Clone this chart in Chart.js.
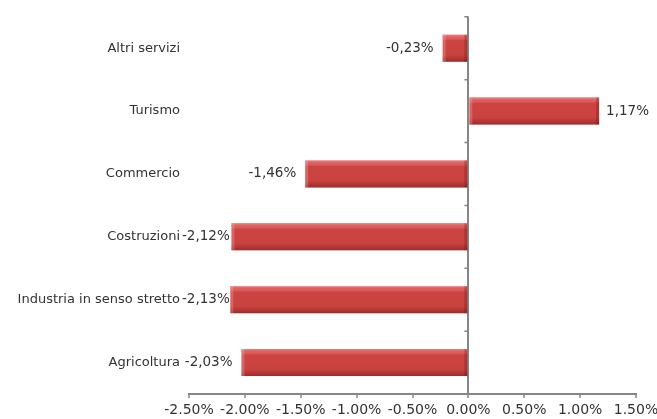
<!DOCTYPE html>
<html>
<head>
<meta charset="utf-8">
<script src="https://cdn.jsdelivr.net/npm/chart.js@4"></script>
<style>
    html, body { margin: 0; padding: 0; background: #fff; }
    #wrap { width: 657px; height: 419px; }
</style>
</head>
<body>
<div id="wrap"><canvas id="sectorChart"></canvas></div>
<script>
const categories = ['Altri servizi', 'Turismo', 'Commercio', 'Costruzioni', 'Industria in senso stretto', 'Agricoltura'];
const values = [-0.23, 1.17, -1.46, -2.12, -2.13, -2.03];
const xMin = -2.5;
const xMax = 1.5;
const xStep = 0.5;

const AXIS = '#868686';
const TEXT = '#333333';
const FONT = 'DejaVu Sans';

function pctLabel(v) {
    return v.toFixed(2).replace('.', ',') + '%';
}

const ctx = document.getElementById('sectorChart').getContext('2d');

const chart = new Chart(ctx, {
    type: 'bar',
    data: {
        labels: categories,
        datasets: [{
            data: values,
            backgroundColor: '#cc4341',
            borderWidth: 0,
            categoryPercentage: 1,
            barPercentage: 0.43
        }]
    },
    options: {
        indexAxis: 'y',
        responsive: true,
        maintainAspectRatio: false,
        animation: false,
        layout: { padding: { top: 15, right: 21, left: 0, bottom: 0 } },
        plugins: { legend: { display: false }, tooltip: { enabled: false } },
        scales: {
            x: {
                min: xMin,
                max: xMax,
                ticks: {
                    stepSize: xStep,
                    color: TEXT,
                    font: { family: FONT, size: 14 },
                    padding: 4,
                    callback: v => Number(v).toFixed(2) + '%'
                },
                grid: {
                    color: c => (c.tick && c.tick.value === 0) ? AXIS : 'rgba(0,0,0,0)',
                    lineWidth: 2,
                    drawTicks: true,
                    tickLength: 4,
                    tickColor: AXIS,
                    tickWidth: 1.5
                },
                border: { display: true, color: AXIS, width: 2 },
                afterFit: scale => {
                    scale.height = 25;
                    scale.paddingLeft = 0;
                    scale.paddingRight = 0;
                }
            },
            y: {
                ticks: {
                    color: TEXT,
                    font: { family: FONT, size: 13 },
                    padding: 9
                },
                grid: { display: false, drawTicks: false },
                border: { display: false },
                afterFit: scale => { scale.width = 189; }
            }
        }
    },
    plugins: [{
        id: 'barShading',
        afterDatasetsDraw: chart => {
            const c = chart.ctx;
            const meta = chart.getDatasetMeta(0);
            c.save();
            meta.data.forEach(bar => {
                const p = bar.getProps(['x', 'y', 'base', 'height'], true);
                const left = Math.min(p.x, p.base);
                const w = Math.abs(p.x - p.base);
                const top = p.y - p.height / 2;
                const h = p.height;
                const g = c.createLinearGradient(0, top, 0, top + h);
                g.addColorStop(0, 'rgba(255,170,170,0.6)');
                g.addColorStop(0.1, 'rgba(255,140,140,0.35)');
                g.addColorStop(0.22, 'rgba(255,255,255,0)');
                g.addColorStop(0.75, 'rgba(0,0,0,0.02)');
                g.addColorStop(0.9, 'rgba(60,0,0,0.2)');
                g.addColorStop(1, 'rgba(60,0,0,0.35)');
                c.fillStyle = g;
                c.fillRect(left, top, w, h);
                // bevel at both ends
                c.fillStyle = 'rgba(255,200,200,0.25)';
                c.fillRect(left, top, 3, h);
                c.fillStyle = 'rgba(90,10,10,0.25)';
                c.fillRect(left + w - 3, top, 3, h);
            });
            c.restore();
        }
    }, {
        id: 'categoryTicks',
        afterDraw: chart => {
            const c = chart.ctx;
            const x0 = chart.scales.x.getPixelForValue(0);
            const y = chart.scales.y;
            const half = (y.getPixelForTick(1) - y.getPixelForTick(0)) / 2;
            c.save();
            c.strokeStyle = AXIS;
            c.lineWidth = 1.5;
            c.beginPath();
            for (let i = 0; i < categories.length; i++) {
                const yy = y.getPixelForTick(i) - half;
                c.moveTo(x0 - 4, yy);
                c.lineTo(x0, yy);
            }
            c.stroke();
            c.restore();
        }
    }, {
        id: 'valueLabels',
        afterDatasetsDraw: chart => {
            const c = chart.ctx;
            const meta = chart.getDatasetMeta(0);
            const leftLimit = chart.chartArea.left - 7;
            c.save();
            c.font = '13.5px "' + FONT + '"';
            c.fillStyle = TEXT;
            c.textBaseline = 'middle';
            meta.data.forEach((bar, i) => {
                const v = values[i];
                const txt = pctLabel(v);
                const w = c.measureText(txt).width;
                if (v < 0) {
                    let xr = bar.x - 9;
                    if (xr - w < leftLimit) xr = leftLimit + w;
                    c.textAlign = 'right';
                    c.fillText(txt, xr, bar.y);
                } else {
                    c.textAlign = 'left';
                    c.fillText(txt, bar.x + 7, bar.y);
                }
            });
            c.restore();
        }
    }]
});
</script>
</body>
</html>
